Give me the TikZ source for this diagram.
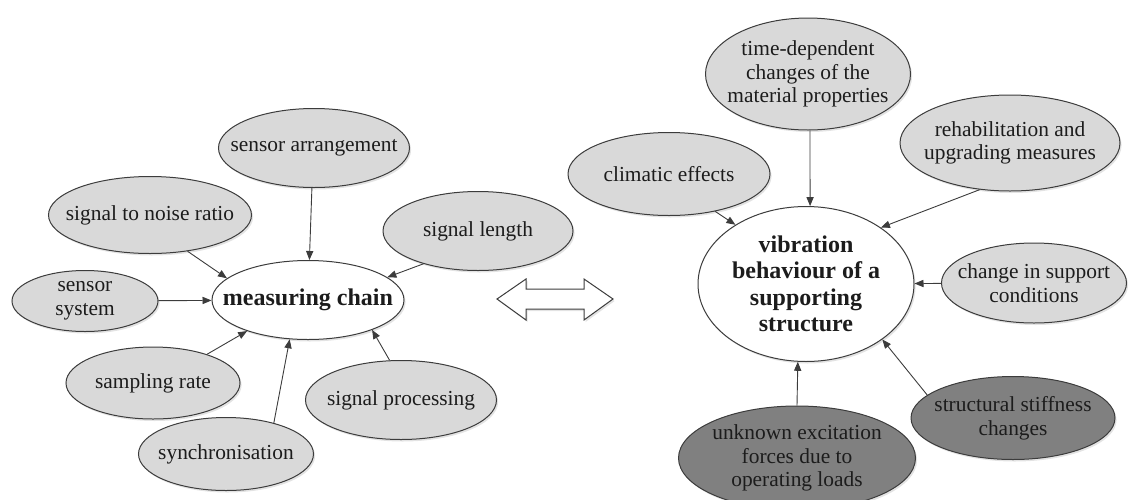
\documentclass[tikz,border=0pt]{standalone}
\usepackage{fontspec}
\setmainfont{Liberation Serif}
\usetikzlibrary{arrows.meta,shapes.geometric,shadows}
\definecolor{ink}{HTML}{3C3C3C}
\definecolor{txt}{HTML}{1C1C1C}
\definecolor{pale}{HTML}{D9D9D9}
\definecolor{dark}{HTML}{808080}

\begin{document}
\begin{tikzpicture}[x=0.5pt,y=-0.5pt,
    bub/.style={ellipse,draw=ink,fill=pale,line width=0.5pt,inner sep=0pt,
                drop shadow={shadow xshift=0.8pt,shadow yshift=-1pt,opacity=0.22}},
    hub/.style={bub,fill=white},
    bubd/.style={bub,fill=dark},
    lbl/.style={font=\fontsize{10.7}{11.8}\selectfont,text=txt,align=center,inner sep=0pt},
    hlbl/.style={lbl,font=\fontsize{12}{13.2}\selectfont\bfseries},
    con/.style={draw=ink,line width=0.45pt,-{Triangle[length=4.5pt,width=3.6pt]}}]
  \useasboundingbox (0,0) rectangle (1130,499);
  % measuring chain side
  \node[hub,minimum width=96pt,minimum height=39.5pt,label={[hlbl]center:measuring chain}] (mc) at (308,300) {};
  \node[bub,minimum width=95.5pt,minimum height=39.5pt,label={[lbl]center:sensor arrangement}] (sa) at (314,148) {};
  \node[bub,minimum width=101.5pt,minimum height=38.5pt,label={[lbl]center:signal to noise ratio}] (snr) at (150,215) {};
  \node[bub,minimum width=95pt,minimum height=39.5pt,label={[lbl]center:signal length}] (sl) at (478,231) {};
  \node[bub,minimum width=73pt,minimum height=30.5pt,label={[lbl]center:sensor\\system}] (ss) at (85,301) {};
  \node[bub,minimum width=87pt,minimum height=36pt,label={[lbl]center:sampling rate}] (sr) at (153,383) {};
  \node[bub,minimum width=87.5pt,minimum height=36.5pt,label={[lbl]center:synchronisation}] (sy) at (226,454) {};
  \node[bub,minimum width=95.5pt,minimum height=39.5pt,label={[lbl]center:signal processing}] (sp) at (401,400) {};
  % structure side
  \node[hub,minimum width=108pt,minimum height=77.5pt,label={[hlbl]center:vibration\\behaviour of a\\supporting\\structure}] (vib) at (806,284) {};
  \node[bub,minimum width=102.5pt,minimum height=56pt,label={[lbl]center:time-dependent\\changes of the\\material properties}] (td) at (808,74) {};
  \node[bub,minimum width=101pt,minimum height=41.5pt,label={[lbl]center:climatic effects}] (ce) at (669,174) {};
  \node[bub,minimum width=110pt,minimum height=48pt,label={[lbl]center:rehabilitation and\\upgrading measures}] (rh) at (1010,143) {};
  \node[bub,minimum width=92.5pt,minimum height=40pt,label={[lbl]center:change in support\\conditions}] (cs) at (1034,283) {};
  \node[bubd,minimum width=102pt,minimum height=41.5pt,label={[lbl]center:structural stiffness\\changes}] (st) at (1013,418) {};
  \node[bubd,minimum width=118.5pt,minimum height=52pt,label={[lbl]center:unknown excitation\\forces due to\\operating loads}] (uk) at (797,458) {};
  % connectors
  \foreach \a/\b in {sa.-93/mc.88, snr.-44/mc.165, sl.211/mc.16, ss/mc, sr.28/mc.207, sy.33/mc.245, sp.106/mc.-25,
                     td.-88/vib.87, ce.-39/vib.140, rh.237/vib.37, cs/vib, st.165/vib.-36, uk.90/vib.264}
    \draw[con] (\a) -- (\b);
  % double arrow between the two groups
  \draw[ink,fill=white,line width=0.5pt,drop shadow={shadow xshift=0.8pt,shadow yshift=-1pt,opacity=0.22}]
    (497,299) -- (526,279) -- (526,289) -- (584,289) -- (584,279) -- (613,299)
    -- (584,320) -- (584,309) -- (526,309) -- (526,320) -- cycle;
\end{tikzpicture}
\end{document}
